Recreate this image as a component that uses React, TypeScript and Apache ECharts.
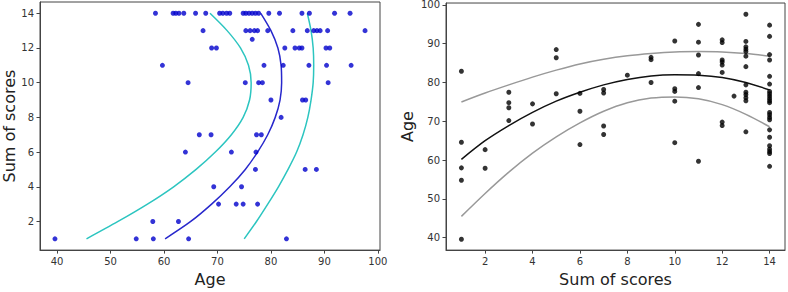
import React, { useEffect, useRef } from "react";
import * as echarts from "echarts";

// Each point: sum of scores and age
const scoreSums = [
  1, 1, 1, 1, 1,
  2, 2,
  3, 3, 3, 3,
  4, 4,
  5, 5, 5,
  6, 6, 6,
  7, 7, 7, 7,
  8,
  9, 9, 9,
  10, 10, 10, 10, 10,
  11, 11, 11, 11, 11, 11,
  12, 12, 12, 12, 12, 12, 12, 12,
  12.5,
  13, 13, 13, 13, 13, 13, 13, 13, 13, 13, 13, 13, 13,
  14, 14, 14, 14, 14, 14, 14, 14, 14, 14, 14, 14, 14, 14, 14, 14, 14, 14, 14, 14, 14, 14, 14,
];
const ages = [
  82.9, 64.6, 58.0, 54.8, 39.6,
  62.7, 57.9,
  77.5, 74.8, 73.5, 70.2,
  74.5, 69.3,
  88.5, 86.4, 77.1,
  77.2, 72.6, 64.0,
  78.2, 77.3, 68.8, 66.6,
  81.9,
  86.5, 85.9, 80.0,
  90.7, 78.4, 77.7, 75.2, 64.5,
  95.0, 90.4, 87.1, 82.3, 78.7, 59.7,
  91.0, 90.3, 85.8, 85.3, 84.5, 82.6, 69.8, 68.9,
  76.5,
  97.6, 90.6, 89.2, 88.6, 88.0, 86.8, 84.1, 79.4, 77.5, 76.9, 76.1, 75.3, 67.3,
  94.8, 91.9, 87.2, 85.8, 81.6, 79.6, 77.7, 77.1, 76.5, 75.9, 75.3, 74.8, 72.3, 71.7, 71.0, 70.4, 67.8, 65.9, 63.7, 62.8, 62.2, 61.7, 58.4,
];

// Fitted curve and band, read at each integer sum of scores
const curveScores = [1, 2, 3, 4, 5, 6, 7, 8, 9, 10, 11, 12, 13, 14];
const fitAge = [60.2, 65.0, 68.9, 72.3, 75.2, 77.5, 79.4, 80.8, 81.7, 82.0, 81.9, 81.3, 80.0, 78.1];
const upperAge = [75.0, 77.3, 79.4, 81.4, 83.2, 84.8, 86.0, 86.9, 87.5, 87.9, 88.0, 87.9, 87.5, 86.8];
const lowerAge = [45.5, 51.4, 56.9, 61.8, 66.0, 69.6, 72.6, 74.8, 76.0, 76.3, 75.8, 74.3, 71.8, 68.6];

const ageTicks = [40, 50, 60, 70, 80, 90, 100];
const scoreTicks = [2, 4, 6, 8, 10, 12, 14];

const FONT = "DejaVu Sans";
const axisCol = "#444";

function makeAxis(gridIndex: number, min: number, max: number, ticks: number[], name: string, nameGap: number) {
  return {
    gridIndex,
    type: "value",
    min,
    max,
    name,
    nameLocation: "middle",
    nameGap,
    nameTextStyle: { fontSize: 16, color: "#222", fontFamily: FONT },
    axisLine: { show: true, onZero: false, lineStyle: { color: axisCol, width: 1 } },
    axisTick: { show: true, length: 3.5, customValues: ticks, lineStyle: { color: axisCol } },
    axisLabel: { customValues: ticks, fontSize: 10, color: "#333", margin: 6, fontFamily: FONT },
    splitLine: { show: false },
  };
}

export default function App() {
  const ref = useRef<HTMLDivElement>(null);
  useEffect(() => {
    if (!ref.current) return;
    const chart = echarts.init(ref.current, null, { renderer: "svg" });
    const leftPts = scoreSums.map((s, i) => [ages[i], s]);
    const rightPts = scoreSums.map((s, i) => [s, ages[i]]);
    const pairL = (arr: number[]) => curveScores.map((s, i) => [arr[i], s]);
    const pairR = (arr: number[]) => curveScores.map((s, i) => [s, arr[i]]);
    const lineBase = { type: "line", symbol: "none", smooth: 0.3, z: 1 };
    chart.setOption({
      animation: false,
      textStyle: { fontFamily: FONT },
      grid: [
        { left: 40, right: 408, top: 2, bottom: 37, show: true, borderColor: axisCol, borderWidth: 1, backgroundColor: "transparent" },
        { left: 446, right: 3, top: 2, bottom: 37, show: true, borderColor: axisCol, borderWidth: 1, backgroundColor: "transparent" },
      ],
      xAxis: [
        makeAxis(0, 36.8, 100.4, ageTicks, "Age", 14),
        makeAxis(1, 0.35, 14.65, scoreTicks, "Sum of scores", 14),
      ],
      yAxis: [
        makeAxis(0, 0.35, 14.65, scoreTicks, "Sum of scores", 20),
        makeAxis(1, 36.8, 100.5, ageTicks, "Age", 31),
      ],
      series: [
        { ...lineBase, xAxisIndex: 0, yAxisIndex: 0, data: pairL(lowerAge), lineStyle: { color: "#2cc5c0", width: 1.5 } },
        { ...lineBase, xAxisIndex: 0, yAxisIndex: 0, data: pairL(upperAge), lineStyle: { color: "#2cc5c0", width: 1.5 } },
        { ...lineBase, xAxisIndex: 0, yAxisIndex: 0, data: pairL(fitAge), lineStyle: { color: "#2828cc", width: 1.5 } },
        { type: "scatter", xAxisIndex: 0, yAxisIndex: 0, data: leftPts, symbolSize: 5, itemStyle: { color: "#0000cc" }, z: 3 },
        { ...lineBase, xAxisIndex: 1, yAxisIndex: 1, data: pairR(lowerAge), lineStyle: { color: "#999999", width: 1.5 } },
        { ...lineBase, xAxisIndex: 1, yAxisIndex: 1, data: pairR(upperAge), lineStyle: { color: "#999999", width: 1.5 } },
        { ...lineBase, xAxisIndex: 1, yAxisIndex: 1, data: pairR(fitAge), lineStyle: { color: "#111111", width: 1.5 } },
        { type: "scatter", xAxisIndex: 1, yAxisIndex: 1, data: rightPts, symbolSize: 5, itemStyle: { color: "#000000" }, z: 3 },
      ],
    });
    return () => chart.dispose();
  }, []);
  return <div ref={ref} style={{ width: 788, height: 292, position: "absolute", left: 0, top: 0 }} />;
}
